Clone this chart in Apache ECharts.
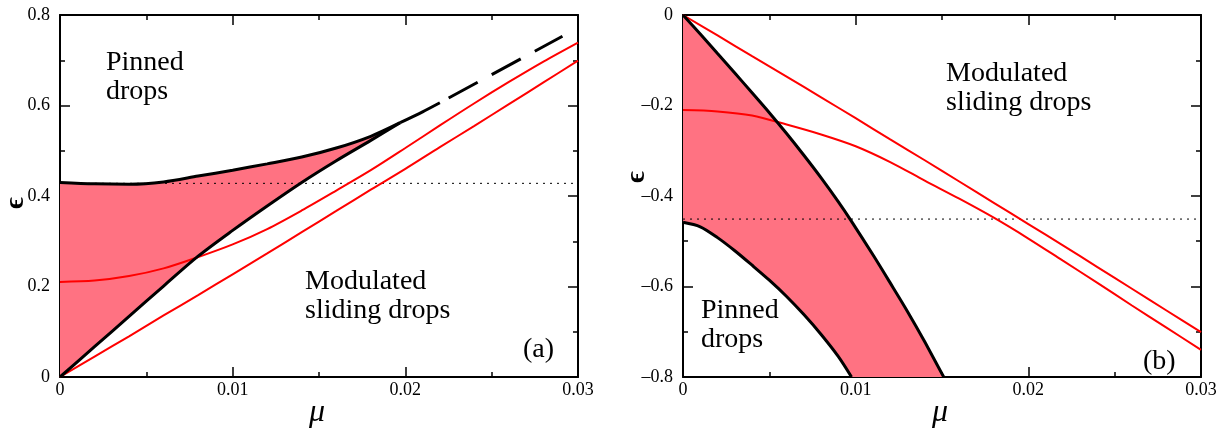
<!DOCTYPE html>
<html>
<head>
<meta charset="utf-8">
<script src="https://cdn.jsdelivr.net/npm/echarts@6/dist/echarts.min.js"></script>
<style>
html, body { margin: 0; padding: 0; background: #fff; }
#chart { width: 1226px; height: 431px; }
</style>
</head>
<body>
<div id="chart"></div>
<script>
// panel (a): boundaries of the shaded region
const muA = [0, 0.002, 0.004, 0.006, 0.008, 0.010, 0.012, 0.014, 0.016, 0.018, 0.0197];
const upperA = [0.430, 0.427, 0.426, 0.431, 0.444, 0.457, 0.471, 0.486, 0.506, 0.532, 0.562];
const lowerA = [0, 0.067, 0.134, 0.201, 0.267, 0.324, 0.378, 0.430, 0.478, 0.523, 0.562];
// single black line after the two curves meet, then dashed continuation
const muTailA = [0.0197, 0.021, 0.022];
const tailA = [0.562, 0.586, 0.606];
const muDashA = [0.022, 0.0291];
const dashA = [0.606, 0.753];
// red curves
const muRed = [0, 0.002, 0.004, 0.006, 0.008, 0.010, 0.012, 0.014, 0.016, 0.018, 0.020, 0.022, 0.024, 0.026, 0.028, 0.030];
const redA1 = [0.210, 0.213, 0.223, 0.240, 0.265, 0.293, 0.327, 0.368, 0.412, 0.457, 0.506, 0.556, 0.605, 0.652, 0.697, 0.739];
const redA2 = [0, 0.045, 0.090, 0.136, 0.181, 0.227, 0.273, 0.320, 0.367, 0.414, 0.460, 0.508, 0.555, 0.603, 0.651, 0.699];
const dottedA = 0.428;

// panel (b)
const muB = [0, 0.001, 0.002, 0.003, 0.004, 0.005, 0.006, 0.007, 0.008, 0.009, 0.00976, 0.011, 0.012, 0.013, 0.014, 0.0151];
const upperB = [0, -0.042, -0.085, -0.128, -0.172, -0.216, -0.262, -0.310, -0.360, -0.413, -0.456, -0.530, -0.592, -0.655, -0.722, -0.800];
const lowerB = [-0.458, -0.468, -0.492, -0.521, -0.553, -0.586, -0.622, -0.662, -0.706, -0.755, -0.800];
const redB1 = [0, -0.045, -0.091, -0.136, -0.182, -0.228, -0.275, -0.321, -0.368, -0.415, -0.462, -0.509, -0.557, -0.605, -0.653, -0.701];
const redB2 = [-0.210, -0.213, -0.222, -0.242, -0.264, -0.290, -0.325, -0.366, -0.406, -0.448, -0.494, -0.543, -0.592, -0.642, -0.691, -0.740];
const dottedB = -0.451;

const xTicks = { min: 0, max: 0.03, interval: 0.01 };
const yTicksA = { min: 0, max: 0.8, interval: 0.2 };
const yTicksB = { min: -0.8, max: 0, interval: 0.2 };

const PINK = '#ff7282';
const RED = '#ff0000';
const FONT = '"Liberation Serif", "DejaVu Serif", serif';

function pairs(xs, ys) {
  return xs.map((x, i) => [x, ys[i]]);
}

function fmt(v) {
  return String(+v.toFixed(3)).replace('-', '\u2013');
}

function xAxis(grid, pos, ticks) {
  return {
    gridIndex: grid, type: 'value', position: pos,
    min: ticks.min, max: ticks.max, interval: ticks.interval,
    axisLine: { onZero: false, lineStyle: { color: '#000', width: 2 } },
    axisTick: { inside: true, length: 10, lineStyle: { color: '#000', width: 1.5 } },
    minorTick: { show: true, splitNumber: 2, length: 5, lineStyle: { color: '#000', width: 1.5 } },
    splitLine: { show: false },
    axisLabel: {
      show: pos === 'bottom', margin: 4, color: '#000',
      fontFamily: FONT, fontSize: 18, formatter: fmt
    }
  };
}

function yAxis(grid, pos, ticks) {
  return {
    gridIndex: grid, type: 'value', position: pos,
    min: ticks.min, max: ticks.max, interval: ticks.interval,
    axisLine: { onZero: false, lineStyle: { color: '#000', width: 2 } },
    axisTick: { inside: true, length: 10, lineStyle: { color: '#000', width: 1.5 } },
    minorTick: { show: true, splitNumber: 2, length: 5, lineStyle: { color: '#000', width: 1.5 } },
    splitLine: { show: false },
    axisLabel: {
      show: pos === 'left', margin: 10, color: '#000',
      fontFamily: FONT, fontSize: 18, formatter: fmt
    }
  };
}

function line(axis, data, color, width, extra) {
  return Object.assign({
    type: 'line', xAxisIndex: axis, yAxisIndex: axis, data: data,
    symbol: 'none', silent: true, smooth: 0.3,
    lineStyle: { color: color, width: width }, z: 3
  }, extra || {});
}

// shaded band between two boundaries, drawn as a polygon in data coordinates
function band(axis, xs, top, bottom) {
  return {
    type: 'custom', xAxisIndex: axis, yAxisIndex: axis, silent: true, z: 1, clip: true,
    data: [[xs[0], top[0]]],
    renderItem: function (params, api) {
      const up = xs.map((x, i) => api.coord([x, top[i]]));
      const down = xs.map((x, i) => api.coord([x, bottom[i]])).reverse();
      return { type: 'polygon', shape: { points: up.concat(down) }, style: { fill: PINK } };
    }
  };
}

function text(str, x, y, size, extra) {
  return Object.assign({
    type: 'text', x: x, y: y, silent: true,
    style: Object.assign({
      text: str, fill: '#000', font: size + 'px ' + FONT,
      lineHeight: 29, verticalAlign: 'top'
    }, (extra && extra.style) || {})
  }, extra ? { rotation: extra.rotation || 0 } : {});
}

const fillLowerB = muB.map((m, i) => i < lowerB.length ? lowerB[i] : yTicksB.min);

const chart = echarts.init(document.getElementById('chart'));
chart.setOption({
  animation: false,
  backgroundColor: '#fff',
  grid: [
    { left: 60, top: 15, width: 518, height: 362 },
    { left: 683, top: 15, width: 518, height: 362 }
  ],
  xAxis: [
    xAxis(0, 'bottom', xTicks), xAxis(0, 'top', xTicks),
    xAxis(1, 'bottom', xTicks), xAxis(1, 'top', xTicks)
  ],
  yAxis: [
    yAxis(0, 'left', yTicksA), yAxis(0, 'right', yTicksA),
    yAxis(1, 'left', yTicksB), yAxis(1, 'right', yTicksB)
  ],
  series: [
    // panel (a)
    band(0, muA, upperA, lowerA),
    line(0, pairs([xTicks.min, xTicks.max], [dottedA, dottedA]), '#000', 1, { smooth: false, lineStyle: { color: '#000', width: 1, type: [2, 5] }, z: 2 }),
    line(0, pairs(muRed, redA1), RED, 2),
    line(0, pairs(muRed, redA2), RED, 2),
    line(0, pairs(muA, upperA), '#000', 3),
    line(0, pairs(muA, lowerA), '#000', 3),
    line(0, pairs(muTailA, tailA), '#000', 3),
    line(0, pairs(muDashA, dashA), '#000', 3, { smooth: false, lineStyle: { color: '#000', width: 3, type: [33, 16], dashOffset: 39 } }),

    // panel (b)
    band(2, muB, upperB, fillLowerB),
    line(2, pairs([xTicks.min, xTicks.max], [dottedB, dottedB]), '#000', 1, { smooth: false, lineStyle: { color: '#000', width: 1, type: [2, 5] }, z: 2 }),
    line(2, pairs(muRed, redB1), RED, 2),
    line(2, pairs(muRed, redB2), RED, 2),
    line(2, pairs(muB, upperB), '#000', 3),
    line(2, pairs(muB.slice(0, lowerB.length), lowerB), '#000', 3)
  ],
  graphic: [
    text('Pinned\ndrops', 106, 48, 28),
    text('Modulated\nsliding drops', 305, 267, 28),
    text('(a)', 523, 335, 28),
    text('Modulated\nsliding drops', 946, 59, 28),
    text('Pinned\ndrops', 701, 296, 28),
    text('(b)', 1143, 347, 28),
    text('\u03bc', 317, 397, 32, { style: { font: 'italic 32px ' + FONT, align: 'center', lineHeight: 32 } }),
    text('\u03bc', 940, 397, 32, { style: { font: 'italic 32px ' + FONT, align: 'center', lineHeight: 32 } }),
    text('\u03f5', 16, 203, 28, { rotation: Math.PI / 2, style: { font: 'bold 28px ' + FONT, align: 'center', verticalAlign: 'middle', lineHeight: 28 } }),
    text('\u03f5', 637, 177, 28, { rotation: Math.PI / 2, style: { font: 'bold 28px ' + FONT, align: 'center', verticalAlign: 'middle', lineHeight: 28 } })
  ]
});
</script>
</body>
</html>
